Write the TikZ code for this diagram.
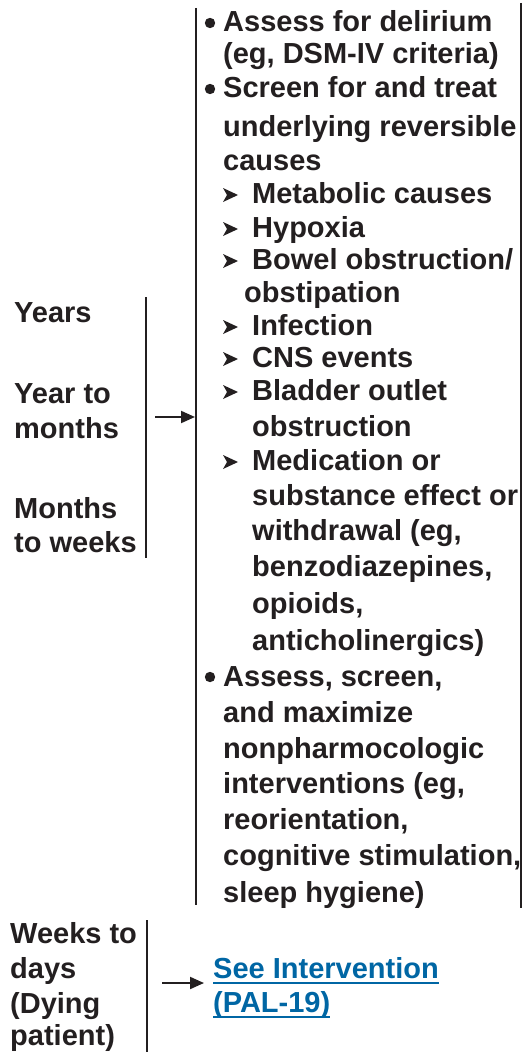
\documentclass[tikz,border=0pt]{standalone}
\usepackage{fontspec}
\setmainfont{Liberation Sans}
\usetikzlibrary{arrows.meta,calc}
\definecolor{ink}{RGB}{35,31,32}
\definecolor{linkblue}{RGB}{0,102,164}
\begin{document}
\begin{tikzpicture}[x=1pt,y=-1pt,
  ln/.style={anchor=base west,inner sep=0pt,text=ink,font=\fontsize{29}{34}\selectfont\bfseries},
  lk/.style={ln,text=linkblue},
  bar/.style={draw=ink,line width=2pt},
  conn/.style={draw=ink,line width=2pt,-{Triangle[length=14pt,width=12pt]}},
  dot/.style={fill=ink},
  sub/.style={fill=ink}]
\useasboundingbox (0,0) rectangle (527,1054);

% ---- time-frame labels
\node[ln] (yr)  at (14,322) {Years};
\node[ln] (ym1) at (14,403) {Year to};
\node[ln] (ym2) at (14,438) {months};
\node[ln] (mw1) at (14,518) {Months};
\node[ln] (mw2) at (14,552) {to weeks};
\node[ln] (wd1) at (10,943) {Weeks to};
\node[ln] (wd2) at (10,978) {days};
\node[ln] (wd3) at (10,1013) {(Dying};
\node[ln] (wd4) at (10,1045) {patient)};

% ---- brackets
\coordinate (lbT) at (146,297);  \coordinate (lbB) at (146,558);
\coordinate (bxLT) at (196,8);   \coordinate (bxLB) at (196,905);
\coordinate (bxRT) at (521,3);   \coordinate (bxRB) at (521,908);
\coordinate (lb2T) at (147,920); \coordinate (lb2B) at (147,1052);
\draw[bar] (lbT) -- (lbB);
\draw[bar] (bxLT) -- (bxLB);
\draw[bar] (bxRT) -- (bxRB);
\draw[bar] (lb2T) -- (lb2B);

% ---- recommendations
\node[ln] (r1)  at (223,32)  {Assess for delirium};
\node[ln] (r2)  at (223,64)  {(eg, DSM-IV criteria)};
\node[ln] (r3)  at (223,98)  {Screen for and treat};
\node[ln] (r4)  at (223,136) {underlying reversible};
\node[ln] (r5)  at (223,170) {causes};
\node[ln] (r6)  at (252,203) {Metabolic causes};
\node[ln] (r7)  at (252,237) {Hypoxia};
\node[ln] (r8)  at (252,269) {Bowel obstruction/};
\node[ln] (r9)  at (244,302) {obstipation};
\node[ln] (r10) at (252,335) {Infection};
\node[ln] (r11) at (252,367) {CNS events};
\node[ln] (r12) at (252,400) {Bladder outlet};
\node[ln] (r13) at (252,436) {obstruction};
\node[ln] (r14) at (252,470) {Medication or};
\node[ln] (r15) at (252,505) {substance effect or};
\node[ln] (r16) at (252,540) {withdrawal (eg,};
\node[ln] (r17) at (252,576) {benzodiazepines,};
\node[ln] (r18) at (252,613) {opioids,};
\node[ln] (r19) at (252,650) {anticholinergics)};
\node[ln] (r20) at (223,686) {Assess, screen,};
\node[ln] (r21) at (223,722) {and maximize};
\node[ln] (r22) at (223,758) {nonpharmocologic};
\node[ln] (r23) at (223,793) {interventions (eg,};
\node[ln] (r24) at (223,829) {reorientation,};
\node[ln] (r25) at (223,865) {cognitive stimulation,};
\node[ln] (r26) at (223,902) {sleep hygiene)};

% round bullets
\foreach \n in {r1,r3,r20}
  \fill[dot] ($(\n.base west)+(-13,-9)$) circle (5.2);
% arrowhead sub-bullets
\foreach \n in {r6,r7,r8,r10,r11,r12,r14}
  \fill[sub] ($(\n.base west)+(-29,-15)$) -- ++(15,7) -- ++(-15,7) -- ++(4,-7) -- cycle;

% ---- link
\node[lk] (see) at (213,978)  {See Intervention};
\node[lk] (pal) at (213,1012) {(PAL-19)};
\draw[linkblue,line width=1.8pt] ($(see.base west)+(0,5)$) -- ($(see.base east)+(0,5)$);
\draw[linkblue,line width=1.8pt] ($(pal.base west)+(0,5)$) -- ($(pal.base east)+(0,5)$);

% ---- connectors
\coordinate (a1s) at (155,417); \coordinate (a1e) at (195,417);
\coordinate (a2s) at (162,983); \coordinate (a2e) at (204,983);
\draw[conn] (a1s) -- (a1e);
\draw[conn] (a2s) -- (a2e);
\end{tikzpicture}
\end{document}
